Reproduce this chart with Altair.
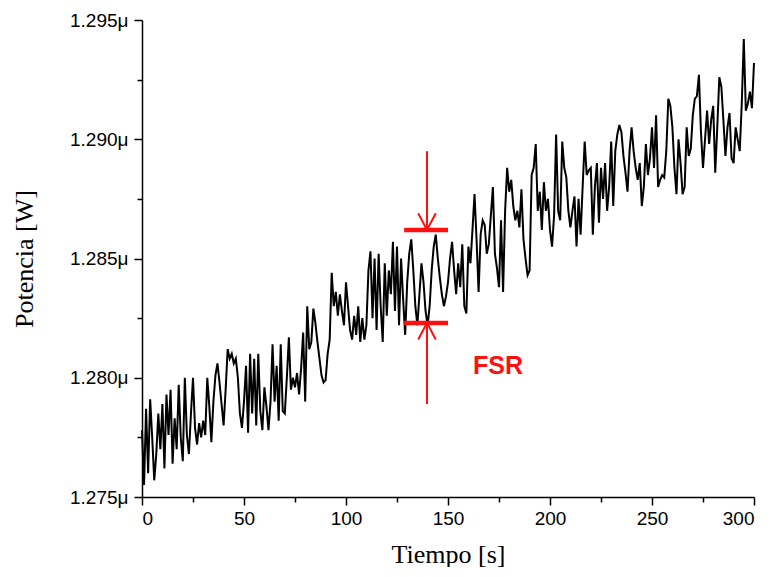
import altair as alt
import pandas as pd

# ---- data ----
time_s = list(range(301))
power_uW = [
    1.2778, 1.2755, 1.2787, 1.2760, 1.2791, 1.2775, 1.2757, 1.2768, 1.2785, 1.2770,
    1.2789, 1.2762, 1.2793, 1.2776, 1.2795, 1.2764, 1.2783, 1.2770, 1.2797, 1.2775,
    1.2765, 1.2800, 1.2776, 1.2768, 1.2785, 1.2800, 1.2779, 1.2772, 1.2781, 1.2775,
    1.2782, 1.2776, 1.2800, 1.2788, 1.2773, 1.2790, 1.2801, 1.2806, 1.2798, 1.2789,
    1.2780, 1.2795, 1.2812, 1.2808, 1.2810, 1.2806, 1.2808, 1.2800, 1.2785, 1.2779,
    1.2790, 1.2805, 1.2777, 1.2810, 1.2785, 1.2808, 1.2780, 1.2810, 1.2786, 1.2778,
    1.2796, 1.2788, 1.2778, 1.2790, 1.2814, 1.2790, 1.2805, 1.2782, 1.2814, 1.2786,
    1.2785, 1.2800, 1.2817, 1.2795, 1.2800, 1.2796, 1.2802, 1.2793, 1.2804, 1.2819,
    1.2790, 1.2830, 1.2812, 1.2815, 1.2829, 1.2823, 1.2815, 1.2808, 1.2801, 1.2798,
    1.2799, 1.2810, 1.2816, 1.2844, 1.2830, 1.2836, 1.2826, 1.2835, 1.2828, 1.2822,
    1.2840, 1.2830, 1.2820, 1.2816, 1.2826, 1.2818, 1.2830, 1.2815, 1.2825, 1.2816,
    1.2822, 1.2845, 1.2853, 1.2825, 1.2850, 1.2820, 1.2852, 1.2830, 1.2815, 1.2848,
    1.2826, 1.2845, 1.2835, 1.2857, 1.2828, 1.2855, 1.2822, 1.2850, 1.2833, 1.2818,
    1.2840, 1.2852, 1.2858, 1.2845, 1.2830, 1.2822, 1.2835, 1.2848, 1.2840, 1.2828,
    1.2822, 1.2830, 1.2845, 1.2855, 1.2860, 1.2850, 1.2842, 1.2835, 1.2830, 1.2834,
    1.2840, 1.2850, 1.2857, 1.2845, 1.2835, 1.2848, 1.2838, 1.2856, 1.2830, 1.2827,
    1.2855, 1.2848, 1.2862, 1.2877, 1.2858, 1.2836, 1.2860, 1.2866, 1.2864, 1.2852,
    1.2856, 1.2868, 1.2880, 1.2852, 1.2846, 1.2838, 1.2866, 1.2836, 1.2870, 1.2888,
    1.2878, 1.2883, 1.2872, 1.2866, 1.2870, 1.2863, 1.2879, 1.2858, 1.2850, 1.2843,
    1.2845, 1.2885, 1.2888, 1.2898, 1.2870, 1.2878, 1.2862, 1.2882, 1.2870, 1.2875,
    1.2862, 1.2855, 1.2868, 1.2902, 1.2870, 1.2866, 1.2899, 1.2888, 1.2884, 1.2870,
    1.2863, 1.2870, 1.2876, 1.2855, 1.2875, 1.2860, 1.2880, 1.2899, 1.2885, 1.2887,
    1.2888, 1.2860, 1.2880, 1.2890, 1.2865, 1.2888, 1.2875, 1.2890, 1.2870, 1.2880,
    1.2899, 1.2872, 1.2895, 1.2902, 1.2906, 1.2903, 1.2893, 1.2886, 1.2878, 1.2895,
    1.2905, 1.2895, 1.2888, 1.2883, 1.2890, 1.2872, 1.2880, 1.2898, 1.2885, 1.2892,
    1.2905, 1.2888, 1.2910, 1.2880, 1.2883, 1.2885, 1.2884, 1.2895, 1.2917, 1.2914,
    1.2905, 1.2888, 1.2877, 1.2900, 1.2890, 1.2877, 1.2880, 1.2905, 1.2893, 1.2896,
    1.2910, 1.2917, 1.2918, 1.2927, 1.2903, 1.2888, 1.2900, 1.2912, 1.2898, 1.2908,
    1.2914, 1.2886, 1.2905, 1.2926, 1.2922, 1.2908, 1.2893, 1.2905, 1.2911, 1.2892,
    1.2890, 1.2905, 1.2900, 1.2895, 1.2915, 1.2942, 1.2912, 1.2915, 1.2920, 1.2913,
    1.2932,
]

x_major = [0, 50, 100, 150, 200, 250, 300]
x_minor = [25, 75, 125, 175, 225, 275]
y_major = [1.275, 1.280, 1.285, 1.290, 1.295]
y_minor = [1.2775, 1.2825, 1.2875, 1.2925]

# FSR annotation (data coordinates)
fsr_bar_x0 = [128.5, 128.5]
fsr_bar_x1 = [150.0, 150.0]
fsr_bar_y = [1.2862, 1.2823]
fsr_stem_x = [139.7, 139.7]
fsr_stem_y0 = [1.2895, 1.2823]
fsr_stem_y1 = [1.2862, 1.2789]
arrow_x = [135.4, 139.7, 144.0, 135.4, 139.7, 144.0]
arrow_y = [1.2869, 1.2862, 1.2869, 1.2816, 1.2823, 1.2816]
arrow_g = ["top", "top", "top", "bot", "bot", "bot"]
arrow_o = [0, 1, 2, 0, 1, 2]
fsr_label_x = [174.5]
fsr_label_y = [1.2805]
fsr_label = ["FSR"]

RED = "#ff1010"

df = pd.DataFrame({"t": time_s, "p": power_uW})
xs = alt.Scale(domain=[0, 300], nice=False, zero=False)
ys = alt.Scale(domain=[1.275, 1.295], nice=False, zero=False)

label_expr = "format(datum.value, '.3f') + 'μ'"

line = alt.Chart(df).mark_line(color="black", strokeWidth=2.0, interpolate="linear").encode(
    x=alt.X("t:Q", scale=xs, axis=alt.Axis(
        values=x_major, title="Tiempo [s]", orient="bottom",
        tickSize=8, labelPadding=4, titlePadding=13, format="d")),
    y=alt.Y("p:Q", scale=ys, axis=alt.Axis(
        values=y_major, title="Potencia [W]", orient="left", labelExpr=label_expr,
        tickSize=8, labelPadding=6, titlePadding=32)),
)

minor = alt.Chart(df).mark_point(opacity=0).encode(
    x=alt.X("t:Q", scale=xs, axis=alt.Axis(
        values=x_minor, orient="bottom", labels=False, domain=False, title=None,
        tickSize=5)),
    y=alt.Y("p:Q", scale=ys, axis=alt.Axis(
        values=y_minor, orient="left", labels=False, domain=False, title=None,
        tickSize=5)),
)

bars_df = pd.DataFrame({"x0": fsr_bar_x0, "x1": fsr_bar_x1, "y": fsr_bar_y})
bars = alt.Chart(bars_df).mark_rule(color=RED, strokeWidth=4.5).encode(
    x=alt.X("x0:Q", scale=xs, axis=None), x2="x1:Q",
    y=alt.Y("y:Q", scale=ys, axis=None),
)

stem_df = pd.DataFrame({"x": fsr_stem_x, "y0": fsr_stem_y0, "y1": fsr_stem_y1})
stems = alt.Chart(stem_df).mark_rule(color=RED, strokeWidth=2).encode(
    x=alt.X("x:Q", scale=xs, axis=None),
    y=alt.Y("y0:Q", scale=ys, axis=None), y2="y1:Q",
)

arrow_df = pd.DataFrame({"x": arrow_x, "y": arrow_y, "g": arrow_g, "o": arrow_o})
arrows = alt.Chart(arrow_df).mark_line(color=RED, strokeWidth=2).encode(
    x=alt.X("x:Q", scale=xs, axis=None),
    y=alt.Y("y:Q", scale=ys, axis=None),
    detail="g:N", order="o:Q",
)

lab_df = pd.DataFrame({"x": fsr_label_x, "y": fsr_label_y, "s": fsr_label})
label = alt.Chart(lab_df).mark_text(
    color=RED, fontSize=25, fontWeight="bold", font="Liberation Sans",
    align="center", baseline="middle").encode(
    x=alt.X("x:Q", scale=xs, axis=None),
    y=alt.Y("y:Q", scale=ys, axis=None),
    text="s:N",
)

chart = alt.layer(line, minor, bars, stems, arrows, label).resolve_axis(
    x="independent", y="independent"
).properties(
    width=612, height=477,
    autosize=alt.AutoSizeParams(type="none"),
    padding={"left": 134, "top": 12, "right": 2, "bottom": 70},
).configure_view(stroke=None).configure_axis(
    grid=False, domainColor="black", domainWidth=1.5, tickColor="black",
    tickWidth=1.5, labelColor="black", labelFont="Liberation Sans",
    labelFontSize=19, titleFont="Liberation Serif", titleFontSize=26,
    titleFontWeight="normal", titleColor="black",
)

chart.save("out.html", embed_options={"renderer": "svg", "actions": False})
